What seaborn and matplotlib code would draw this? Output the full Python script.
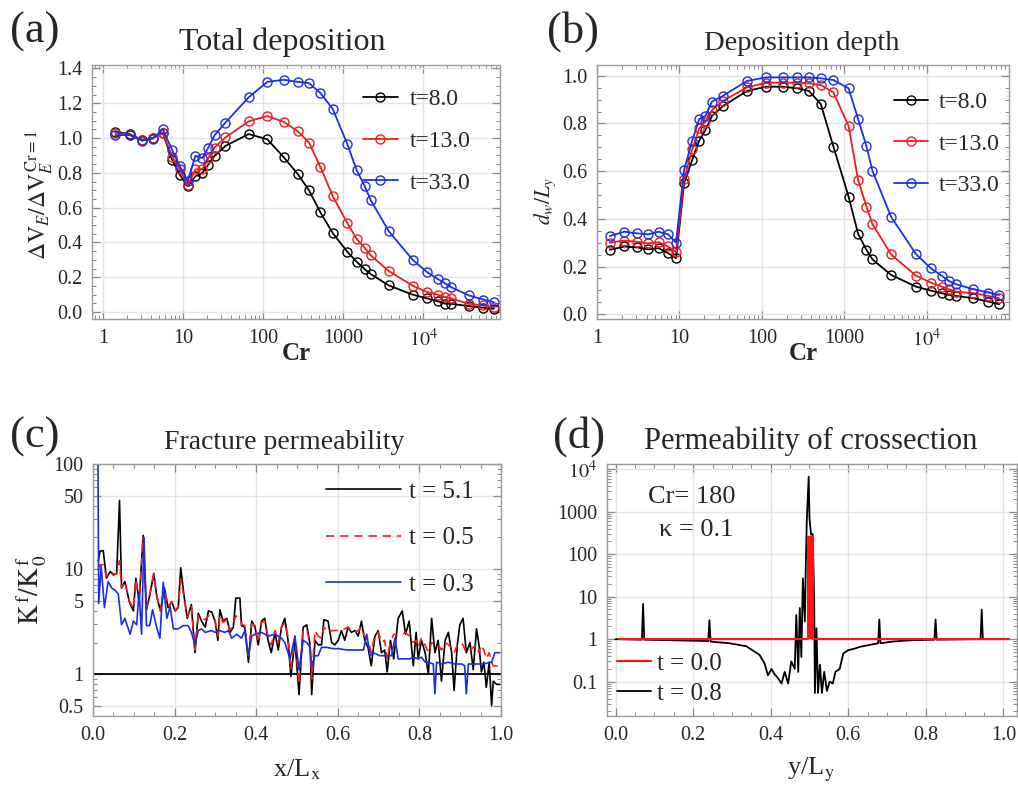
import numpy as np
import pandas as pd
import matplotlib
matplotlib.use("Agg")
import matplotlib.pyplot as plt
import matplotlib.ticker as mticker
import seaborn as sns

# ---------------- (a), (b): deposition vs Cr ----------------
cr = [1.43, 2.15, 3.07, 4.17, 5.6, 7.3, 9.1, 11.4, 14.3, 17.4,
      20.7, 24.8, 33.9, 66, 113, 181, 270, 374, 520, 740,
      1130, 1475, 1860, 2200, 3700, 7400, 11200, 15300, 18500, 22500,
      37000, 56000, 76000]
time_labels_ab = ["t=8.0", "t=13.0", "t=33.0"]

dv_t8 = [1.036, 1.023, 0.99, 1.0, 1.03, 0.875, 0.79, 0.724, 0.78, 0.80,
         0.847, 0.898, 0.955, 1.023, 0.993, 0.89, 0.794, 0.70, 0.573, 0.454,
         0.346, 0.289, 0.246, 0.219, 0.153, 0.10, 0.078, 0.062, 0.049, 0.047,
         0.034, 0.025, 0.019]
dv_t13 = [1.03, 1.02, 0.99, 1.0, 1.03, 0.894, 0.82, 0.728, 0.82, 0.82,
          0.885, 0.945, 1.004, 1.096, 1.127, 1.093, 1.04, 0.974, 0.834, 0.667,
          0.51, 0.42, 0.369, 0.327, 0.236, 0.151, 0.115, 0.10, 0.087, 0.078,
          0.047, 0.038, 0.028]
dv_t33 = [1.017, 1.017, 0.985, 0.996, 1.051, 0.932, 0.84, 0.752, 0.898, 0.885,
          0.945, 1.017, 1.089, 1.234, 1.323, 1.335, 1.323, 1.316, 1.259, 1.168,
          0.964, 0.815, 0.724, 0.645, 0.465, 0.30, 0.229, 0.189, 0.166, 0.142,
          0.096, 0.072, 0.057]

dw_t8 = [0.27, 0.284, 0.28, 0.272, 0.277, 0.256, 0.235, 0.549, 0.647, 0.728,
         0.772, 0.831, 0.873, 0.936, 0.954, 0.954, 0.947, 0.936, 0.881, 0.703,
         0.493, 0.337, 0.27, 0.23, 0.165, 0.116, 0.099, 0.088, 0.081, 0.077,
         0.067, 0.053, 0.042]
dw_t13 = [0.30, 0.309, 0.304, 0.297, 0.302, 0.284, 0.26, 0.566, 0.691, 0.779,
          0.807, 0.856, 0.895, 0.951, 0.971, 0.971, 0.971, 0.968, 0.961, 0.93,
          0.789, 0.563, 0.451, 0.378, 0.251, 0.162, 0.133, 0.116, 0.105, 0.095,
          0.088, 0.077, 0.067]
dw_t33 = [0.328, 0.346, 0.339, 0.335, 0.346, 0.335, 0.30, 0.605, 0.728, 0.818,
          0.831, 0.891, 0.916, 0.978, 0.993, 0.993, 0.993, 0.993, 0.989, 0.982,
          0.947, 0.818, 0.705, 0.602, 0.409, 0.253, 0.193, 0.161, 0.14, 0.126,
          0.105, 0.091, 0.081]

# ---------------- (c): fracture permeability along x ----------------
xc = [0.013, 0.017, 0.025, 0.033, 0.042, 0.050, 0.058, 0.065, 0.070, 0.078,
      0.089, 0.099, 0.105, 0.113, 0.123, 0.131, 0.139, 0.149, 0.156, 0.165,
      0.175, 0.184, 0.193, 0.201, 0.209, 0.215, 0.223, 0.231, 0.241, 0.250,
      0.258, 0.266, 0.275, 0.283, 0.291, 0.299, 0.306, 0.311, 0.319, 0.328,
      0.336, 0.344, 0.350, 0.360, 0.364, 0.372, 0.381, 0.389, 0.397, 0.405,
      0.413, 0.421, 0.429, 0.437, 0.446, 0.454, 0.462, 0.470, 0.478, 0.485,
      0.495, 0.505, 0.515, 0.524, 0.532, 0.536, 0.544, 0.552, 0.560, 0.566,
      0.576, 0.585, 0.593, 0.601, 0.609, 0.617, 0.625, 0.633, 0.642, 0.650,
      0.658, 0.666, 0.674, 0.682, 0.691, 0.699, 0.707, 0.715, 0.721, 0.729,
      0.737, 0.748, 0.758, 0.766, 0.775, 0.785, 0.792, 0.797, 0.805, 0.814,
      0.822, 0.830, 0.838, 0.846, 0.854, 0.863, 0.871, 0.879, 0.885, 0.893,
      0.899, 0.907, 0.915, 0.924, 0.932, 0.940, 0.946, 0.952, 0.958, 0.964,
      0.971, 0.977, 0.981, 0.989, 0.997]
kc_t51 = [12, 14.8, 15, 8.2, 9.5, 8.8, 9.1, 45, 6.6, 7.6,
          4.9, 4.0, 8.2, 4.9, 21, 4.1, 5.6, 9.1, 5.6, 4.0,
          6.6, 4.3, 4.9, 4.0, 4.3, 10.3, 5.6, 3.4, 4.6, 1.6,
          3.8, 3.2, 2.8, 4.0, 3.9, 3.2, 2.1, 4.1, 3.2, 3.4,
          2.5, 2.8, 5.3, 5.3, 2.9, 2.8, 1.3, 3.2, 2.8, 1.9,
          3.2, 3.4, 2.1, 1.6, 2.5, 1.7, 2.8, 3.4, 2.1, 0.95,
          2.1, 0.64, 2.8, 2.95, 1.9, 0.64, 2.1, 1.9, 1.9, 3.3,
          3.2, 2.0, 1.9, 2.1, 2.6, 2.1, 2.8, 2.5, 2.6, 2.3,
          3.2, 2.1, 1.8, 1.2, 2.3, 2.6, 1.6, 1.7, 1.05, 2.1,
          1.4, 3.4, 4.0, 2.4, 3.2, 1.2, 2.5, 1.4, 2.1, 1.6,
          1.0, 3.4, 1.6, 2.1, 0.86, 2.1, 2.5, 1.6, 0.7, 1.9,
          2.95, 3.4, 1.6, 2.0, 1.1, 2.7, 1.9, 1.05, 1.3, 0.75,
          1.3, 0.5, 0.86, 0.8, 0.8]
kc_t05 = [10, 11, 11, 8.5, 9.5, 9.0, 9.0, 12, 6.6, 7.6,
          5.0, 4.2, 8.0, 4.9, 20, 4.2, 5.8, 9.0, 5.6, 4.0,
          6.4, 4.4, 4.9, 4.0, 4.4, 8.0, 5.4, 3.5, 4.5, 1.7,
          3.6, 3.4, 3.3, 3.6, 3.5, 3.3, 2.3, 3.6, 3.1, 3.3,
          2.6, 3.0, 3.6, 3.3, 3.0, 2.9, 1.4, 3.0, 2.9, 2.0,
          3.1, 3.2, 2.3, 1.9, 2.6, 2.0, 2.8, 3.1, 2.3, 1.1,
          2.3, 0.8, 2.6, 2.7, 1.9, 0.9, 2.6, 2.3, 2.2, 2.8,
          2.5, 2.6, 2.6, 2.6, 2.6, 2.7, 2.8, 2.6, 2.5, 2.6,
          2.8, 2.3, 2.1, 1.6, 2.4, 2.5, 2.0, 2.1, 1.4, 2.0,
          2.4, 2.3, 2.4, 2.5, 2.3, 2.0, 2.1, 1.8, 2.2, 1.9,
          1.6, 2.0, 1.9, 1.9, 1.7, 2.0, 1.9, 1.8, 1.6, 1.9,
          2.0, 1.9, 1.6, 1.7, 1.8, 1.9, 1.6, 1.9, 1.7, 1.4,
          1.6, 1.3, 1.2, 1.2, 1.2]
xc_blue = [0.012, 0.014, 0.020, 0.028, 0.037, 0.046, 0.054, 0.062, 0.070, 0.078,
           0.091, 0.099, 0.107, 0.113, 0.119, 0.125, 0.131, 0.139, 0.146, 0.156,
           0.164, 0.172, 0.181, 0.189, 0.197, 0.209, 0.221, 0.233, 0.241, 0.250,
           0.258, 0.266, 0.275, 0.291, 0.299, 0.311, 0.323, 0.332, 0.340, 0.352,
           0.364, 0.372, 0.381, 0.389, 0.397, 0.413, 0.429, 0.446, 0.462, 0.470,
           0.483, 0.495, 0.505, 0.515, 0.524, 0.532, 0.536, 0.544, 0.552, 0.560,
           0.573, 0.589, 0.601, 0.622, 0.638, 0.663, 0.671, 0.679, 0.687, 0.703,
           0.720, 0.732, 0.740, 0.748, 0.761, 0.777, 0.785, 0.797, 0.805, 0.814,
           0.822, 0.834, 0.838, 0.842, 0.854, 0.871, 0.887, 0.904, 0.911, 0.915,
           0.920, 0.940, 0.956, 0.977, 0.985, 0.997]
kc_t03 = [150, 4.7, 10.7, 4.3, 7.6, 6.6, 6.3, 5.8, 2.95, 3.4,
          2.4, 3.2, 2.95, 6.1, 2.4, 20, 2.9, 2.9, 4.1, 2.8,
          2.2, 7.5, 3.4, 4.4, 2.7, 2.7, 2.9, 2.9, 2.5, 1.9,
          2.6, 2.7, 2.5, 2.6, 2.5, 2.6, 2.5, 2.6, 2.2, 2.4,
          2.2, 2.6, 1.5, 2.3, 2.4, 2.5, 2.3, 2.4, 2.2, 2.0,
          1.4, 2.3, 1.1, 2.1, 2.0, 1.8, 1.2, 1.5, 1.5, 1.8,
          1.8, 1.75, 1.75, 1.7, 1.7, 1.7, 2.4, 1.5, 1.6, 1.5,
          1.5, 1.5, 2.2, 1.4, 1.4, 1.4, 1.45, 1.4, 1.45, 1.3,
          1.3, 1.25, 0.65, 1.3, 1.25, 1.3, 1.25, 1.25, 1.2, 0.65,
          1.25, 1.25, 1.25, 1.3, 1.6, 1.6]
k_initial = 1.0

# ---------------- (d): permeability of cross-section ----------------
yd_t0 = [0.01, 0.496, 0.496, 0.51, 0.51, 1.015]
kd_t0 = [1, 1, 260, 260, 1, 1]
yd_t08 = [0.0, 0.068, 0.071, 0.074, 0.15, 0.239, 0.242, 0.245, 0.26, 0.294,
          0.337, 0.371, 0.384, 0.393, 0.402, 0.410, 0.419, 0.428, 0.436, 0.445,
          0.453, 0.462, 0.466, 0.471, 0.475, 0.479, 0.483, 0.488, 0.490, 0.493,
          0.498, 0.500, 0.504, 0.508, 0.512, 0.514, 0.518, 0.522, 0.527, 0.532,
          0.538, 0.545, 0.552, 0.560, 0.567, 0.578, 0.587, 0.600, 0.617, 0.630,
          0.677, 0.680, 0.683, 0.716, 0.759, 0.822, 0.825, 0.828, 0.90, 0.941,
          0.944, 0.947, 1.01]
kd_t08 = [1.0, 0.97, 6.7, 0.97, 0.94, 0.9, 2.8, 0.88, 0.85, 0.8,
          0.68, 0.43, 0.27, 0.14, 0.2, 0.15, 0.12, 0.09, 0.17, 0.09,
          0.3, 0.2, 3.7, 0.17, 5.4, 0.38, 27, 2.6, 32, 590,
          6700, 700, 290, 300, 11, 0.054, 1.8, 0.054, 0.25, 0.054,
          0.17, 0.06, 0.1, 0.09, 0.17, 0.2, 0.46, 0.55, 0.6, 0.66,
          0.8, 2.9, 0.8, 0.88, 0.94, 0.97, 2.9, 0.97, 0.99, 1.0,
          4.9, 1.0, 1.0]

# ---------------- style ----------------
sns.set_style("ticks")
plt.rcParams["font.family"] = ["Liberation Serif", "DejaVu Serif"]
plt.rcParams["mathtext.fontset"] = "stix"

W, H = 1018, 786
fig = plt.figure(figsize=(W / 100, H / 100), dpi=100)


def box(left, top, right, bottom):
    return [left / W, 1 - bottom / H, (right - left) / W, (bottom - top) / H]


def ftext(x, y, s, **kw):
    fig.text(x / W, 1 - y / H, s, **kw)


def frame(ax):
    for sp in ax.spines.values():
        sp.set_color("#9a9a9a")
        sp.set_linewidth(1.0)
    ax.tick_params(which="both", direction="in", top=True, right=True,
                   color="#8a8a8a", labelsize=14.5, pad=7)
    ax.tick_params(which="major", length=6, width=0.9)
    ax.tick_params(which="minor", length=3, width=0.7)
    ax.grid(True, which="major", color="#e4e4e4", lw=1.0)
    ax.set_axisbelow(True)


ax_a = fig.add_axes(box(92, 65, 500, 319))
ax_b = fig.add_axes(box(597, 65, 1009, 319))
ax_c = fig.add_axes(box(93, 464, 501, 716))
ax_d = fig.add_axes(box(607, 464, 1017, 716))

colors_ab = ["black", "#ee1c1c", "#1c2ee6"]

for ax, series in [(ax_a, [dv_t8, dv_t13, dv_t33]), (ax_b, [dw_t8, dw_t13, dw_t33])]:
    for vals, col, lab in zip(series, colors_ab, time_labels_ab):
        sns.lineplot(x=cr, y=vals, ax=ax, color=col, label=lab, lw=1.3,
                     marker="o", markersize=6.5, markerfacecolor="none",
                     markeredgecolor=col, markeredgewidth=1.0,
                     estimator=None, sort=False)
    ax.set_xscale("log")
    ax.xaxis.set_major_locator(mticker.FixedLocator([1, 10, 100, 1000, 1e4]))
    ax.xaxis.set_major_formatter(mticker.FixedFormatter(["1", "10", "100", "1000", "$10^4$"]))
    ax.xaxis.set_minor_locator(mticker.LogLocator(base=10, subs=np.arange(2, 10)))
    ax.xaxis.set_minor_formatter(mticker.NullFormatter())
    ax.yaxis.set_minor_locator(mticker.MultipleLocator(0.05))
    frame(ax)

ax_a.set_xlim(0.73, 91000)
ax_a.set_ylim(-0.04, 1.42)
ax_a.yaxis.set_major_locator(mticker.MultipleLocator(0.2))
ax_a.yaxis.set_major_formatter(mticker.FormatStrFormatter("%.1f"))
ax_a.legend(loc="center left", bbox_to_anchor=(0.665, 0.70), frameon=False,
            fontsize=17, handlelength=1.45, handletextpad=0.5, labelspacing=0.85,
            borderpad=0, borderaxespad=0)

ax_b.set_xlim(1, 1e5)
ax_b.set_ylim(-0.02, 1.045)
ax_b.yaxis.set_major_locator(mticker.MultipleLocator(0.2))
ax_b.yaxis.set_major_formatter(mticker.FormatStrFormatter("%.1f"))
ax_b.legend(loc="center left", bbox_to_anchor=(0.72, 0.69), frameon=False,
            fontsize=17, handlelength=1.45, handletextpad=0.45, labelspacing=0.85,
            borderpad=0, borderaxespad=0)

# (c)
ax_c.axhline(k_initial, color="black", lw=1.3, zorder=1)
sns.lineplot(x=xc, y=kc_t51, ax=ax_c, color="black", lw=1.2, label="t = 5.1",
             estimator=None, sort=False)
sns.lineplot(x=xc, y=kc_t05, ax=ax_c, color="#ff1a1a", lw=1.2, label="t = 0.5",
             dashes=(5, 3.5), estimator=None, sort=False)
sns.lineplot(x=xc_blue, y=kc_t03, ax=ax_c, color="#1a2fe0", lw=1.2, label="t = 0.3",
             estimator=None, sort=False)
ax_c.set_yscale("log")
ax_c.set_xlim(0, 1)
ax_c.set_ylim(0.4, 100)
ax_c.yaxis.set_major_locator(mticker.FixedLocator([0.5, 1, 5, 10, 50, 100]))
ax_c.yaxis.set_major_formatter(mticker.FixedFormatter(["0.5", "1", "5", "10", "50", "100"]))
ax_c.yaxis.set_minor_locator(mticker.LogLocator(base=10, subs=np.arange(2, 10)))
ax_c.yaxis.set_minor_formatter(mticker.NullFormatter())
ax_c.xaxis.set_major_locator(mticker.MultipleLocator(0.2))
ax_c.xaxis.set_minor_locator(mticker.MultipleLocator(0.05))
ax_c.xaxis.set_major_formatter(mticker.FormatStrFormatter("%.1f"))
frame(ax_c)
ax_c.legend(loc="center left", bbox_to_anchor=(0.57, 0.706), frameon=False,
            fontsize=18, handlelength=3.0, handletextpad=0.35, labelspacing=0.95,
            borderpad=0, borderaxespad=0)

# (d)
sns.lineplot(x=yd_t08, y=kd_t08, ax=ax_d, color="black", lw=1.3, label="t = 0.8",
             estimator=None, sort=False)
sns.lineplot(x=yd_t0, y=kd_t0, ax=ax_d, color="#ff1414", lw=1.6, label="t = 0.0",
             estimator=None, sort=False)
ax_d.fill_between(yd_t0, 1, kd_t0, color="#ff1414", lw=0)
ax_d.set_yscale("log")
ax_d.set_xlim(-0.022, 1.035)
ax_d.set_ylim(0.0155, 13300)
ax_d.yaxis.set_major_locator(mticker.FixedLocator([0.1, 1, 10, 100, 1000, 1e4]))
ax_d.yaxis.set_major_formatter(mticker.FixedFormatter(["0.1", "1", "10", "100", "1000", "$10^4$"]))
ax_d.yaxis.set_minor_locator(mticker.LogLocator(base=10, subs=np.arange(2, 10)))
ax_d.yaxis.set_minor_formatter(mticker.NullFormatter())
ax_d.xaxis.set_major_locator(mticker.MultipleLocator(0.2))
ax_d.xaxis.set_minor_locator(mticker.MultipleLocator(0.05))
ax_d.xaxis.set_major_formatter(mticker.FormatStrFormatter("%.1f"))
frame(ax_d)
h, l = ax_d.get_legend_handles_labels()
ax_d.legend([h[1], h[0]], [l[1], l[0]], loc="lower left", bbox_to_anchor=(0.025, 0.045),
            frameon=False, fontsize=18, handlelength=1.35, handletextpad=0.25,
            labelspacing=0.3, borderpad=0, borderaxespad=0)
ax_d.text(0.207, 0.869, "Cr= 180", transform=ax_d.transAxes, fontsize=19,
          ha="center", va="center")
ax_d.text(0.217, 0.738, "\u03ba = 0.1", transform=ax_d.transAxes, fontsize=19,
          ha="center", va="center")

# titles, panel letters and axis labels
ftext(282, 50, "Total deposition", fontsize=23, ha="center", va="baseline")
ftext(802, 50, "Deposition depth", fontsize=20.5, ha="center", va="baseline")
ftext(284, 449, "Fracture permeability", fontsize=20, ha="center", va="baseline")
ftext(811, 449, "Permeability of crossection", fontsize=22, ha="center", va="baseline")
for x, y, s in [(10, 32, "(a)"), (547, 32, "(b)"), (10, 437, "(c)"), (553, 437, "(d)")]:
    ftext(x, y, s, fontsize=32, ha="left", va="center")

ftext(296, 353, "Cr", fontsize=18, fontweight="bold", ha="center", va="center")
ftext(803, 353, "Cr", fontsize=18, fontweight="bold", ha="center", va="center")
ftext(297, 770, r"x/L$_\mathrm{x}$", fontsize=19, ha="center", va="center")
ftext(811, 770, r"y/L$_\mathrm{y}$", fontsize=19, ha="center", va="center")
ftext(40, 195, r"$\Delta\mathrm{V}_E/\Delta\mathrm{V}_E^{\,\mathrm{Cr}=1}$", fontsize=17,
      ha="center", va="center", rotation=90)
ftext(545, 201, r"$d_w/L_y$", fontsize=15.5, ha="center", va="center", rotation=90)
ftext(32, 590, r"$\mathrm{K}^{\,\mathrm{f}}/\mathrm{K}^{\,\mathrm{f}}_{\,0}$", fontsize=19.5,
      ha="center", va="center", rotation=90)

fig.savefig("out.png", dpi=100)
